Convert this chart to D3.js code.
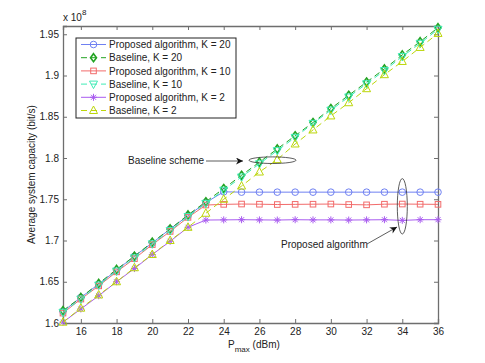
<!DOCTYPE html>
<html><head><meta charset="utf-8">
<script src="https://cdn.jsdelivr.net/npm/d3@7"></script>
<style>body{margin:0;background:#fff}svg{display:block}text{font-family:"Liberation Sans",Arial,Helvetica,sans-serif}</style>
</head><body><svg id="c" width="485" height="363"></svg>
<script>
const pmax = [15,16,17,18,19,20,21,22,23,24,25,26,27,28,29,30,31,32,33,34,35,36];
const propK20 = [1.614,1.631,1.647,1.664,1.681,1.697,1.714,1.730,1.746,1.759,1.7586,1.7586,1.7586,1.7586,1.7586,1.7586,1.7586,1.7586,1.7586,1.7586,1.7586,1.7586];
const baseK20 = [1.615,1.631,1.648,1.665,1.681,1.698,1.714,1.731,1.747,1.763,1.779,1.795,1.811,1.827,1.843,1.860,1.876,1.892,1.908,1.925,1.941,1.958];
const propK10 = [1.612,1.629,1.645,1.662,1.678,1.695,1.711,1.728,1.743,1.7438,1.7442,1.7440,1.7436,1.7438,1.7440,1.7442,1.7436,1.7432,1.7440,1.7442,1.7440,1.7438];
const baseK10 = [1.613,1.629,1.646,1.663,1.679,1.696,1.712,1.729,1.745,1.761,1.777,1.793,1.809,1.825,1.842,1.858,1.874,1.890,1.906,1.923,1.939,1.956];
const propK2  = [1.601,1.617,1.633,1.650,1.666,1.683,1.699,1.716,1.7248,1.7250,1.7252,1.7250,1.7248,1.7252,1.7250,1.7250,1.7248,1.7250,1.7252,1.7244,1.7252,1.7252];
const baseK2  = [1.601,1.618,1.634,1.650,1.667,1.683,1.700,1.716,1.733,1.750,1.766,1.783,1.798,1.817,1.834,1.851,1.867,1.884,1.901,1.917,1.934,1.951];
const seriesNames = ["Proposed algorithm, K = 20","Baseline, K = 20","Proposed algorithm, K = 10","Baseline, K = 10","Proposed algorithm, K = 2","Baseline, K = 2"];
const seriesValues = [propK20, baseK20, propK10, baseK10, propK2, baseK2];
const seriesColors = ["#6f80f2","#22a322","#f26b6b","#3eebb5","#a95cf0","#bcd60b"];
const seriesMarkers = ["circle","diamond","square","triDown","star","triUp"];
const seriesDashed = [false,true,false,true,false,true];
const xTicks = [16,18,20,22,24,26,28,30,32,34,36];
const yTicks = [1.6,1.65,1.7,1.75,1.8,1.85,1.9,1.95];

const svg = d3.select("#c");
const L=63,R=438,T=26,B=323;
const x = d3.scaleLinear().domain([15,36]).range([L,R]);
const y = d3.scaleLinear().domain([1.6,1.96]).range([B,T]);
const axisCol = "#6e6e6e";

svg.append("rect").attr("width",485).attr("height",363).attr("fill","#fff");

// axes
const fmt = d => String(+d.toFixed(2));
const gx = svg.append("g").attr("transform",`translate(0,${B})`).call(d3.axisBottom(x).tickValues(xTicks).tickSize(-4).tickPadding(5).tickFormat(d=>d));
const gxt = svg.append("g").attr("transform",`translate(0,${T})`).call(d3.axisTop(x).tickValues(xTicks).tickSize(-4).tickFormat(""));
const gy = svg.append("g").attr("transform",`translate(${L},0)`).call(d3.axisLeft(y).tickValues(yTicks).tickSize(-4).tickPadding(4).tickFormat(fmt));
const gyr = svg.append("g").attr("transform",`translate(${R},0)`).call(d3.axisRight(y).tickValues(yTicks).tickSize(-4).tickFormat(""));
[gx,gxt,gy,gyr].forEach(g=>{
  g.select(".domain").attr("stroke",axisCol).attr("stroke-width",1.3);
  g.selectAll(".tick line").attr("stroke",axisCol);
  g.selectAll(".tick text").attr("font-size",10).attr("fill","#222").attr("font-family",'"Liberation Sans",Arial,sans-serif');
});

// marker drawing
function marker(g, type, cx, cy, col){
  const s = g.append("g").attr("transform",`translate(${cx},${cy})`).attr("fill","none").attr("stroke",col).attr("stroke-width",1);
  if(type==="circle") s.append("circle").attr("r",3.3);
  else if(type==="square") s.append("rect").attr("x",-2.8).attr("y",-2.8).attr("width",5.6).attr("height",5.6);
  else if(type==="diamond") s.append("path").attr("d","M0,-4L3,0L0,4L-3,0Z").attr("stroke-width",1.6);
  else if(type==="triUp") s.append("path").attr("d","M0,-4.5L4,3L-4,3Z");
  else if(type==="triDown") s.append("path").attr("d","M0,4.5L4,-3L-4,-3Z");
  else if(type==="star"){
    s.append("path").attr("d","M0,-3.5L0,3.5M-3.5,0L3.5,0M-2.5,-2.5L2.5,2.5M-2.5,2.5L2.5,-2.5");
  }
}

const line = d3.line().x((d,i)=>x(pmax[i])).y(d=>y(d));
const plot = svg.append("g");
seriesValues.forEach((vals,k)=>{
  plot.append("path").datum(vals).attr("d",line).attr("fill","none")
    .attr("stroke",seriesColors[k]).attr("stroke-width",1)
    .attr("stroke-dasharray",seriesDashed[k]?"6,4":null);
  const mg = plot.append("g");
  vals.forEach((v,i)=>marker(mg,seriesMarkers[k],x(pmax[i]),y(v),seriesColors[k]));
});

// x10^8
const ex = svg.append("text").attr("x",63).attr("y",21).attr("font-size",10).attr("fill","#222");
ex.append("tspan").text("x 10");
ex.append("tspan").attr("dy",-6).attr("font-size",8).text("8");

// axis labels
const xl = svg.append("text").attr("x",228).attr("y",348).attr("font-size",10).attr("fill","#222");
xl.append("tspan").text("P");
xl.append("tspan").attr("dy",4).attr("font-size",8).text("max");
xl.append("tspan").attr("dy",-4).text(" (dBm)");
svg.append("text").attr("transform",`translate(35,${(T+B)/2}) rotate(-90)`).attr("text-anchor","middle")
  .attr("font-size",10).attr("fill","#222").text("Average system capacity (bit/s)");

// legend
const lg = svg.append("g");
lg.append("rect").attr("x",76).attr("y",38).attr("width",160).attr("height",80).attr("fill","#fff").attr("stroke","#222").attr("stroke-width",1);
seriesNames.forEach((n,k)=>{
  const yy = 44.5 + k*13.2;
  lg.append("line").attr("x1",81).attr("x2",106).attr("y1",yy).attr("y2",yy).attr("stroke",seriesColors[k]).attr("stroke-width",1)
    .attr("stroke-dasharray",seriesDashed[k]?"6,4":null);
  marker(lg,seriesMarkers[k],93.5,yy,seriesColors[k]);
  lg.append("text").attr("x",109).attr("y",yy+3.6).attr("font-size",10).attr("fill","#222").text(n);
});

// annotations
const defs = svg.append("defs");
defs.append("marker").attr("id","ah").attr("viewBox","0 0 10 10").attr("refX",10).attr("refY",5)
  .attr("markerWidth",9).attr("markerHeight",7).attr("markerUnits","userSpaceOnUse").attr("orient","auto")
  .append("path").attr("d","M0,0L10,5L0,10L3,5Z").attr("fill","#111");
const ann = svg.append("g");
ann.append("text").attr("x",128).attr("y",164).attr("font-size",10).attr("fill","#222").text("Baseline scheme");
ann.append("line").attr("x1",206).attr("y1",161).attr("x2",243).attr("y2",161).attr("stroke","#333").attr("stroke-width",0.8).attr("marker-end","url(#ah)");
ann.append("ellipse").attr("cx",272.5).attr("cy",160.2).attr("rx",23.5).attr("ry",3.3).attr("fill","none").attr("stroke","#333").attr("stroke-width",0.8);
ann.append("ellipse").attr("cx",402.3).attr("cy",206.3).attr("rx",5).attr("ry",27.7).attr("fill","none").attr("stroke","#333").attr("stroke-width",0.8);
ann.append("text").attr("x",281).attr("y",248).attr("font-size",10).attr("fill","#222").text("Proposed algorithm");
ann.append("line").attr("x1",367).attr("y1",244).attr("x2",397).attr("y2",227).attr("stroke","#333").attr("stroke-width",0.8).attr("marker-end","url(#ah)");
</script></body></html>
